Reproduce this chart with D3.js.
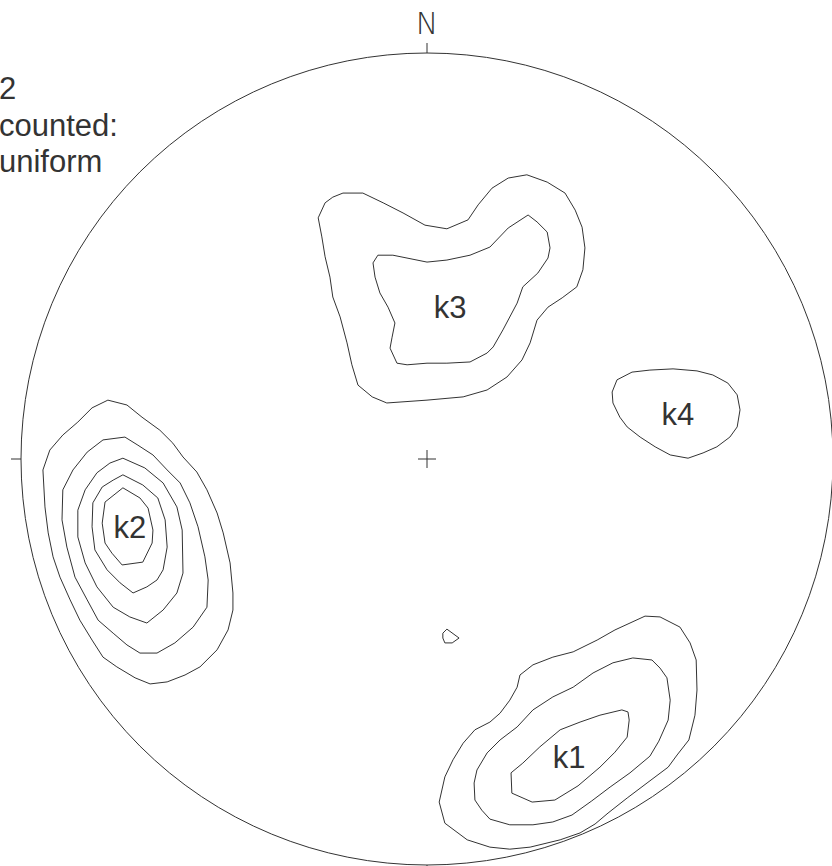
<!DOCTYPE html>
<html>
<head>
<meta charset="utf-8">
<script src="https://cdn.jsdelivr.net/npm/d3@7/dist/d3.min.js"></script>
<style>
  html, body { margin: 0; padding: 0; background: #fff; }
  svg { display: block; }
</style>
</head>
<body>
<svg id="net" width="832" height="866"></svg>
<script>
// Density contours on an equal-area net. Coordinates are in net units:
// x east, y north, primitive circle radius = 100.

const headerLines = ["2", "counted:", "uniform"];
const northLabel = "N";

// k1 cluster (SE), three levels
const k1Outer = [[46.3,-42.1],[50.0,-40.4],[53.7,-38.7],[57.4,-38.9],[62.3,-41.4],[64.8,-45.3],[66.3,-49.5],[66.5,-56.9],[66.0,-63.1],[64.5,-69.2],[61.6,-72.9],[59.4,-75.9],[54.2,-79.8],[49.3,-83.5],[44.6,-87.2],[41.4,-89.9],[37.7,-92.1],[32.8,-93.8],[25.4,-95.6],[20.4,-96.1],[15.5,-95.6],[9.9,-93.8],[4.4,-89.7],[3.0,-84.5],[4.4,-78.3],[6.4,-74.1],[8.9,-70.0],[11.8,-66.7],[15.5,-64.8],[18.0,-62.6],[20.4,-59.4],[22.2,-56.2],[22.9,-53.2],[26.1,-50.7],[31.0,-48.8],[36.0,-47.5],[41.9,-44.6]];
const k1Middle = [[50.7,-49.0],[55.4,-49.5],[57.4,-51.5],[59.1,-53.9],[59.9,-59.4],[59.4,-64.3],[57.1,-69.5],[54.9,-73.2],[50.0,-77.3],[45.1,-80.8],[40.6,-84.2],[35.7,-87.7],[31.0,-89.4],[26.1,-90.1],[20.4,-90.1],[15.5,-88.7],[13.5,-86.5],[11.8,-84.0],[11.6,-79.8],[12.3,-76.6],[14.8,-72.4],[18.0,-69.2],[22.2,-66.0],[26.1,-61.8],[31.0,-58.6],[36.0,-56.2],[40.9,-52.7],[45.8,-50.2]];
const k1Inner = [[48.0,-61.8],[49.5,-62.3],[49.8,-64.3],[49.3,-68.5],[46.3,-72.2],[42.6,-75.9],[37.2,-80.5],[31.5,-84.0],[25.9,-84.5],[20.9,-82.3],[20.7,-77.3],[23.6,-74.9],[27.8,-70.9],[32.8,-66.7],[37.7,-64.8],[42.6,-63.1]];

// k2 cluster (W), five levels
const k2Level1 = [[-78.6,14.5],[-73.9,13.3],[-70.2,10.3],[-65.8,7.1],[-62.6,3.9],[-60.1,0.5],[-56.7,-3.2],[-54.2,-7.6],[-51.7,-13.3],[-50.2,-18.2],[-48.5,-25.6],[-47.8,-33.0],[-47.8,-37.2],[-49.0,-42.1],[-51.7,-47.0],[-55.9,-51.2],[-59.6,-53.2],[-64.0,-54.9],[-68.2,-55.4],[-71.9,-53.9],[-76.4,-51.2],[-79.8,-48.8],[-82.5,-44.6],[-85.5,-39.7],[-87.9,-34.7],[-90.4,-29.1],[-92.1,-24.1],[-93.3,-18.2],[-94.1,-11.8],[-94.6,-2.7],[-92.9,2.2],[-89.7,5.9],[-86.0,9.1],[-82.5,12.6]];
const k2Level2 = [[-79.8,4.7],[-74.4,5.4],[-71.2,3.4],[-67.5,1.0],[-64.0,-2.7],[-60.8,-5.9],[-58.4,-10.8],[-56.4,-16.7],[-54.7,-24.1],[-53.9,-29.8],[-54.2,-36.5],[-57.6,-41.4],[-62.1,-45.3],[-66.5,-47.8],[-70.7,-47.8],[-73.9,-45.8],[-77.3,-42.9],[-81.0,-39.7],[-83.7,-34.7],[-86.7,-29.1],[-88.7,-21.7],[-89.9,-15.0],[-89.7,-7.6],[-87.2,-2.7],[-83.7,1.7]];
const k2Level3 = [[-74.9,0.2],[-69.5,-2.2],[-65.0,-5.9],[-61.6,-11.8],[-60.3,-17.5],[-60.1,-28.1],[-61.6,-33.0],[-65.0,-37.2],[-69.0,-40.4],[-73.2,-38.9],[-77.3,-36.5],[-81.3,-31.5],[-84.2,-25.6],[-86.0,-19.2],[-86.0,-12.6],[-84.2,-7.6],[-81.3,-3.4],[-78.1,-1.0]];
const k2Level4 = [[-74.9,-3.9],[-70.0,-6.4],[-66.3,-9.6],[-64.5,-15.0],[-64.0,-21.7],[-65.0,-27.3],[-66.5,-29.8],[-69.0,-31.5],[-72.4,-33.0],[-75.6,-30.5],[-78.8,-27.3],[-81.8,-22.4],[-82.5,-16.7],[-82.3,-10.8],[-80.0,-6.9],[-77.3,-5.2]];
const k2Level5 = [[-74.9,-7.1],[-70.7,-9.6],[-68.7,-12.1],[-67.5,-17.5],[-67.7,-20.7],[-70.0,-25.4],[-75.1,-26.1],[-77.6,-23.2],[-79.3,-20.7],[-80.0,-15.8],[-79.3,-10.6]];

// k3 cluster (N), two levels
const k3Outer = [[-20.7,65.5],[-15.8,65.5],[-10.8,63.1],[-5.9,60.6],[-0.5,57.6],[4.9,56.7],[10.1,58.9],[12.6,62.6],[16.0,66.7],[20.0,69.2],[24.6,70.0],[29.6,68.2],[34.0,65.5],[36.5,61.3],[38.2,57.1],[38.9,52.0],[38.4,46.6],[36.9,42.4],[33.3,39.7],[29.8,37.4],[27.1,34.2],[25.4,28.6],[23.4,24.4],[19.7,20.2],[14.8,17.0],[8.9,15.3],[0.0,14.5],[-9.9,13.8],[-13.5,15.3],[-17.0,18.2],[-18.5,23.2],[-19.7,28.6],[-21.4,35.0],[-23.2,39.9],[-23.9,44.8],[-25.1,49.8],[-25.9,54.7],[-26.8,59.4],[-25.1,63.1],[-23.2,64.5]];
const k3Inner = [[-12.1,50.2],[-8.4,50.2],[0.0,48.5],[4.9,49.0],[10.6,50.2],[15.5,52.2],[20.0,56.9],[24.9,60.1],[27.1,58.4],[29.6,55.9],[30.3,52.0],[29.8,49.5],[27.3,45.8],[23.6,42.4],[22.2,38.4],[18.7,31.8],[16.3,27.6],[14.8,26.1],[10.6,23.9],[4.9,23.6],[0.0,23.6],[-4.9,23.2],[-7.4,23.6],[-9.1,27.3],[-8.6,30.0],[-7.9,33.5],[-9.6,37.4],[-11.6,40.9],[-12.8,44.8],[-13.3,48.3]];

// k4 cluster (E), one level
const k4Outer = [[46.8,19.5],[50.5,21.4],[54.9,21.9],[60.6,22.2],[66.5,21.7],[70.4,20.7],[74.1,18.7],[76.4,15.8],[77.1,12.1],[76.4,7.9],[74.6,5.4],[71.4,3.0],[68.0,1.5],[64.3,0.2],[59.9,1.0],[56.2,3.0],[52.5,5.4],[49.3,7.9],[47.5,10.3],[45.8,13.8],[45.6,16.5]];

// isolated small closed contour
const speck = [[4.9,-41.9],[7.9,-44.1],[6.2,-45.3],[4.4,-45.3],[3.9,-44.1],[3.9,-42.9]];

const clusterNames = ["k1", "k2", "k3", "k4"];
const clusterLabelX = [35.0, -73.2, 5.7, 61.8];
const clusterLabelY = [-76.1, -19.5, 34.7, 8.4];

const contours = [k1Outer, k1Middle, k1Inner,
                  k2Level1, k2Level2, k2Level3, k2Level4, k2Level5,
                  k3Outer, k3Inner, k4Outer, speck];

// ---- drawing ----
const cx = 427, cy = 459, r = 406;
const ink = "#333";
const fontSans = "Arial, 'Liberation Sans', Helvetica, sans-serif";

const svg = d3.select("#net");
const x = d3.scaleLinear().domain([-100, 100]).range([cx - r, cx + r]);
const y = d3.scaleLinear().domain([-100, 100]).range([cy + r, cy - r]);

svg.append("rect").attr("width", 832).attr("height", 866).attr("fill", "#fff");

// primitive circle
svg.append("circle")
  .attr("cx", x(0)).attr("cy", y(0)).attr("r", x(100) - x(0))
  .attr("fill", "none").attr("stroke", ink).attr("stroke-width", 1);

// cardinal ticks outside the circle
const tickLen = 10;
const cardinals = [[0, 100], [100, 0], [0, -100], [-100, 0]];
svg.selectAll("line.card").data(cardinals).enter().append("line")
  .attr("class", "card")
  .attr("x1", d => x(d[0]))
  .attr("y1", d => y(d[1]))
  .attr("x2", d => x(d[0]) + Math.sign(d[0]) * tickLen)
  .attr("y2", d => y(d[1]) - Math.sign(d[1]) * tickLen)
  .attr("stroke", ink).attr("stroke-width", 1);

// centre cross
const cross = 9;
svg.append("line").attr("x1", x(0) - cross).attr("x2", x(0) + cross)
  .attr("y1", y(0)).attr("y2", y(0)).attr("stroke", ink);
svg.append("line").attr("x1", x(0)).attr("x2", x(0))
  .attr("y1", y(0) - cross).attr("y2", y(0) + cross).attr("stroke", ink);

// north label
svg.append("text")
  .attr("x", x(0)).attr("y", y(100) - 19)
  .attr("text-anchor", "middle")
  .attr("font-family", "'DejaVu Sans', sans-serif")
  .attr("font-weight", 200)
  .attr("font-size", 30)
  .attr("fill", ink)
  .text(northLabel);

// contour lines
const line = d3.line().x(d => x(d[0])).y(d => y(d[1])).curve(d3.curveLinearClosed);
svg.selectAll("path.contour").data(contours).enter().append("path")
  .attr("class", "contour")
  .attr("d", line)
  .attr("fill", "none")
  .attr("stroke", ink)
  .attr("stroke-width", 1)
  .attr("stroke-linejoin", "round");

// cluster labels
svg.selectAll("text.k").data(clusterNames).enter().append("text")
  .attr("class", "k")
  .attr("x", (d, i) => x(clusterLabelX[i]))
  .attr("y", (d, i) => y(clusterLabelY[i]))
  .attr("text-anchor", "middle")
  .attr("font-family", fontSans)
  .attr("font-size", 31)
  .attr("fill", ink)
  .text(d => d);

// header text block
svg.selectAll("text.hdr").data(headerLines).enter().append("text")
  .attr("class", "hdr")
  .attr("x", -1)
  .attr("y", (d, i) => 99 + i * 36.5)
  .attr("font-family", fontSans)
  .attr("font-size", 31)
  .attr("fill", ink)
  .text(d => d);
</script>
</body>
</html>
